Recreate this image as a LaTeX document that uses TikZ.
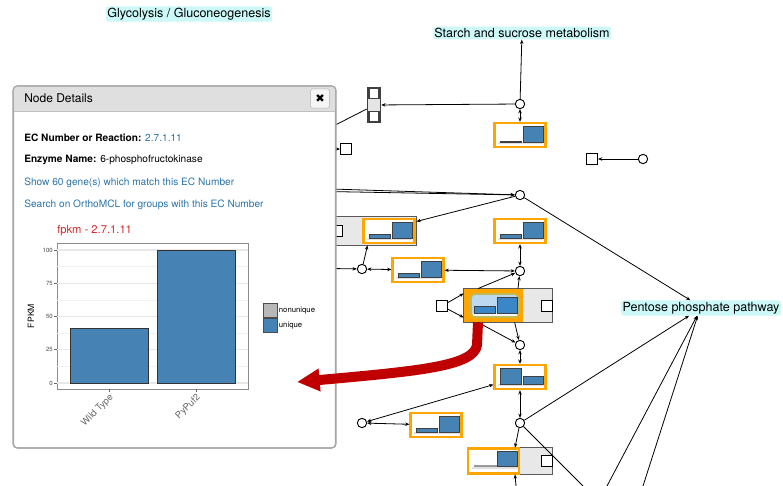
\documentclass[tikz,border=0pt]{standalone}
\usepackage{fontspec}
\setmainfont{TeX Gyre Heros}
\newfontfamily\symbolfont{DejaVu Sans}
\usepackage{tikz}
\usetikzlibrary{arrows.meta, positioning, calc}

\definecolor{mapcyan}{HTML}{CCF8F8}
\definecolor{ecorange}{HTML}{FFA500}
\definecolor{barblue}{HTML}{4682B4}
\definecolor{hiblue}{HTML}{3A86C8}
\definecolor{hifill}{HTML}{BDD9F2}
\definecolor{linkblue}{HTML}{2A74A8}
\definecolor{plotred}{HTML}{D62728}
\definecolor{callred}{HTML}{C00000}
\definecolor{headgray}{HTML}{DFDFDF}
\definecolor{boxgray}{HTML}{E8E8E8}

\tikzset{
  maplabel/.style={fill=mapcyan, rounded corners=2pt, inner sep=1.2pt, font=\fontsize{9.4}{11}\selectfont},
  cpd/.style={circle, draw, fill=white, line width=0.7pt, minimum size=7pt, inner sep=0pt},
  gene/.style={rectangle, draw, fill=white, line width=0.7pt, minimum size=8.3pt, inner sep=0pt},
  ecbox/.style={rectangle, draw=ecorange, fill=white, line width=1.8pt, minimum width=38pt, minimum height=18pt, inner sep=0pt},
  grpbox/.style={rectangle, draw=black!65, fill=boxgray, line width=0.9pt, inner sep=0pt, outer sep=0pt},
  edge/.style={line width=0.6pt, -{Stealth[length=3.2pt,width=2.6pt]}},
  edge2/.style={line width=0.6pt, {Stealth[length=3.2pt,width=2.6pt]}-{Stealth[length=3.2pt,width=2.6pt]}},
  infotext/.style={anchor=west, inner sep=0pt, font=\fontsize{7.6}{9}\selectfont},
  ticklabel/.style={anchor=east, inner sep=0pt, text=black!70, font=\fontsize{4.5}{5}\selectfont},
  xlabel/.style={rotate=45, anchor=east, inner sep=0pt, text=black!60, font=\fontsize{7}{8}\selectfont},
}

% two small bars inside an EC box
\newcommand{\minibars}[3]{%
  \begin{scope}[shift={(#1.center)}]
    \fill[black!12] (-22,7) rectangle (23,9);
    \filldraw[fill=barblue, draw=black!75, line width=0.5pt] (-20,7) rectangle (1,7-#2);
    \filldraw[fill=barblue, draw=black!75, line width=0.5pt] (3,7) rectangle (23,7-#3);
  \end{scope}}

\begin{document}
\begin{tikzpicture}[x=0.75pt, y=-0.75pt]
  \useasboundingbox[fill=white] (0,0) rectangle (783,486);

  % pathway labels
  \node[maplabel] (glyco) at (189,14) {Glycolysis / Gluconeogenesis};
  \node[maplabel] (starch) at (522,33) {Starch and sucrose metabolism};
  \node[maplabel] (pentose) at (701,308) {Pentose phosphate pathway};

  % compounds
  \node[cpd] (c1) at (520,104) {};
  \node[cpd] (c2) at (643,159) {};
  \node[cpd] (c3) at (520,195) {};
  \node[cpd] (c4) at (362,269) {};
  \node[cpd] (c5) at (520,271) {};
  \node[cpd] (c6) at (520,345) {};
  \node[cpd] (c7) at (362,423) {};
  \node[cpd] (c8) at (520,423) {};

  % genes
  \node[draw=black!75, fill=black!10, line width=0.9pt, minimum width=10pt, minimum height=26.5pt, inner sep=0pt] (stack) at (374,105) {};
  \node[gene, draw=black!75, line width=1.1pt, minimum size=7.3pt] (stacktop) at (374,93.5) {};
  \node[gene, draw=black!75, line width=1.1pt, minimum size=7.3pt] (stackbot) at (374,116.5) {};
  \node[gene] (s1) at (346,149) {};
  \node[gene] (s2) at (592,159) {};
  \node[gene] (s3) at (442,306) {};

  % enzyme groups
  \node[grpbox, minimum width=67.5pt, minimum height=21.6pt] (g3) at (371.5,231) {};
  \node[gene] (s4) at (336.5,231) {};
  \node[grpbox, minimum width=66.6pt, minimum height=25.4pt] (gH) at (508,305.5) {};
  \node[fill=ecorange, minimum width=45pt, minimum height=25.4pt, inner sep=0pt] (eH) at (493,305.5) {};
  \draw[black!65, line width=0.9pt] (gH.north west) rectangle (gH.south east);
  \node[gene] (s5) at (547,306) {};
  \node[grpbox, minimum width=63.6pt, minimum height=20.1pt] (gB) at (510,461) {};
  \node[gene] (s6) at (547,461) {};

  % enzyme boxes
  \node[ecbox] (e1) at (520,135) {};
  \node[ecbox] (e2) at (520,231) {};
  \node[ecbox] (e3) at (389,231) {};
  \node[ecbox] (e4) at (418,270) {};
  \node[ecbox] (e6) at (520,377) {};
  \node[ecbox] (e7) at (436,425) {};
  \node[ecbox, minimum height=19pt] (eB) at (493.5,461) {};
  \minibars{e1}{1}{16}
  \minibars{e2}{4}{16}
  \minibars{e3}{4}{16}
  \minibars{e4}{4}{16}
  \minibars{e6}{16}{8}
  \minibars{e7}{4}{16}
  \begin{scope}[shift={(eB.center)}]
    \fill[black!12] (-22,6) rectangle (24,8);
    \draw[black!40, line width=0.8pt] (-20,5) -- (3,5);
    \filldraw[fill=barblue, draw=black!75, line width=0.5pt] (4,5) rectangle (24,-10);
  \end{scope}
  % highlighted one
  \begin{scope}[shift={(eH.center)}]
    \filldraw[fill=hifill, draw=olive!55, line width=1.2pt, rounded corners=3pt] (-22,-11.5) rectangle (25,11.5);
    \fill[white!80!hifill] (-20,7.5) rectangle (24,10);
    \filldraw[fill=hiblue, draw=black!75, line width=0.5pt] (-19,7.5) rectangle (2,0.5);
    \filldraw[fill=hiblue, draw=black!75, line width=0.5pt] (4,7.5) rectangle (24,-8.5);
  \end{scope}

  % free ends
  \coordinate (offA) at (300,143);
  \coordinate (offB) at (300,149);
  \coordinate (offC) at (300,188);
  \coordinate (offD) at (300,191);
  \coordinate (offE) at (300,268);
  \coordinate (offF) at (583,486);
  \coordinate (offG) at (607,486);
  \coordinate (offH) at (643,486);
  \coordinate (offI) at (516,486);

  % edges
  \draw[edge] (c1) -- (starch);
  \draw[edge] (c1) -- (stack);
  \draw[edge2] (c1) -- (e1);
  \draw[line width=0.6pt] ([yshift=-3pt]stack.west) -- (offA);
  \draw[edge] (offB) -- (s1);
  \draw[edge] (c2) -- (s2);
  \draw[edge] (offC) -- (c3);
  \draw[edge] (offD) -- (c3);
  \draw[edge] (c3) -- (g3.12);
  \draw[edge] (c3) -- ([xshift=-8pt]pentose.north);
  \draw[edge2] (e2) -- (c5);
  \draw[edge] (c4) -- ([xshift=-3pt]g3.south);
  \draw[edge] (offE) -- (c4);
  \draw[edge2] (c4) -- (e4);
  \draw[edge2] (e4) -- (c5);
  \draw[edge] ([xshift=-22.5pt]gH.north) -- (c5);
  \draw[edge] ([xshift=7.5pt]gH.north) -- (c5);
  \draw[edge] (s3) -- ([yshift=9pt]gH.west);
  \draw[edge] (s3) -- ([yshift=-9pt]gH.west);
  \draw[edge] ([xshift=-22.5pt]gH.south) -- (c6);
  \draw[edge] ([xshift=5pt]gH.south) -- (c6);
  \draw[edge2] (c6) -- (e6);
  \draw[edge2] (e6) -- (c8);
  \draw[edge2] (c7) -- (e6.196);
  \draw[edge2] (c7) -- (e7);
  \draw[edge] (c8) -- ([xshift=-9pt]pentose.south);
  \draw[edge] (c8) -- ([xshift=3.75pt]gB.north);
  \draw[line width=0.6pt] (c8) -- (offF);
  \draw[edge] (offG) -- ([xshift=-3pt]pentose.south);
  \draw[edge] (offH) -- ([xshift=-2.5pt]pentose.south);
  \draw[edge] (offI) -- ([xshift=3.75pt]gB.south);

  % node details panel
  \node[draw=black!35, fill=white, rounded corners=3pt, line width=0.8pt, minimum width=241.5pt, minimum height=271.5pt, inner sep=0pt] (panel) at (174.5,267) {};
  \fill[headgray, rounded corners=3pt] (13.6,86.6) rectangle (335.4,111);
  \fill[headgray] (13.6,100) rectangle (335.4,111);
  \draw[black!25] (13.6,111) -- (335.4,111);
  \draw[black!35, rounded corners=3pt, line width=0.8pt] (13,86) rectangle (336,448);
  \node[font=\fontsize{9}{11}\selectfont, anchor=west, inner sep=0pt] (title) at (24,98) {Node Details};
  \node[draw=black!30, fill=black!4, rounded corners=2pt, minimum size=14.5pt, inner sep=0pt, font=\symbolfont\fontsize{8.5}{9}\selectfont] (closebtn) at (320,98.5) {✖};

  \node[infotext] (ecline) at (24,138) {\textbf{EC Number or Reaction:} \textcolor{linkblue}{2.7.1.11}};
  \node[infotext] (enzline) at (24,160) {\textbf{Enzyme Name:} 6-phosphofructokinase};
  \node[infotext, text=linkblue] (geneline) at (24,183) {Show 60 gene(s) which match this EC Number};
  \node[infotext, text=linkblue] (ortholine) at (24,205) {Search on OrthoMCL for groups with this EC Number};

  % bar chart
  \node[anchor=west, inner sep=0pt, text=plotred, font=\fontsize{8.4}{10}\selectfont] (plottitle) at (57,231) {fpkm - 2.7.1.11};
  \draw[black!45, fill=white] (57,243) rectangle (248,389);
  \foreach \v in {12.5,37.5,62.5,87.5}
    \draw[black!5, line width=0.5pt] (57,383-1.33*\v) -- (248,383-1.33*\v);
  \foreach \v in {0,25,50,75,100} {
    \draw[black!9, line width=0.8pt] (57,383-1.33*\v) -- (248,383-1.33*\v);
    \draw[black!60, line width=0.4pt] (54,383-1.33*\v) -- (57,383-1.33*\v);
    \node[ticklabel] at (53,383-1.33*\v) {\v};
  }
  \draw[fill=barblue, draw=black!80, line width=0.7pt] (70,383) rectangle (148,328.5);
  \draw[fill=barblue, draw=black!80, line width=0.7pt] (157,383) rectangle (235,250);
  \draw[black!60, line width=0.4pt] (109,389) -- (109,392);
  \draw[black!60, line width=0.4pt] (196,389) -- (196,392);
  \node[xlabel] (wtlabel) at (112,396) {Wild Type};
  \node[xlabel] (puflabel) at (199,396) {PyPuf2};
  \node[rotate=90, inner sep=0pt, font=\fontsize{6.5}{7}\selectfont] (ylabel) at (31,316) {FPKM};
  \filldraw[fill=black!28, draw=black!70, line width=0.6pt] (263,303) rectangle (277,317);
  \filldraw[fill=barblue, draw=black!70, line width=0.6pt] (263,318.5) rectangle (277,332.5);
  \node[anchor=west, inner sep=0.5pt, font=\fontsize{5.8}{6}\selectfont] (leg1) at (278,310.5) {nonunique};
  \node[anchor=west, inner sep=0.5pt, font=\fontsize{5.8}{6}\selectfont] (leg2) at (278,325.5) {unique};

  % red pointer
  \draw[callred, line width=7.5pt, -{Triangle[length=17pt,width=16pt]}] ([xshift=-22.5pt]gH.south) -- (477,345) .. controls (474,366) and (420,371) .. (297,382);
\end{tikzpicture}
\end{document}
